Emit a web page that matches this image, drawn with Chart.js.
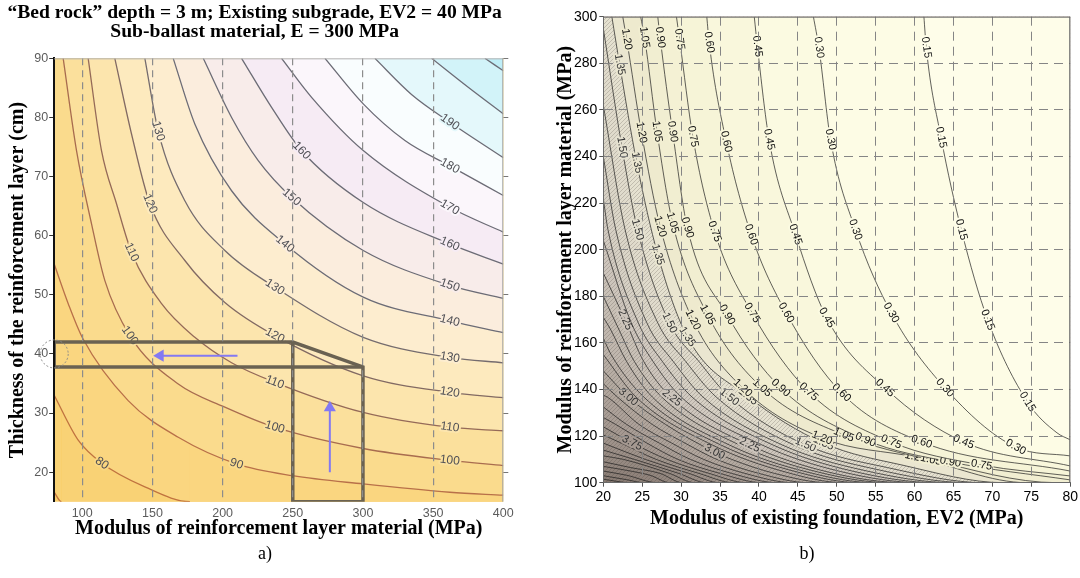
<!DOCTYPE html>
<html>
<head>
<meta charset="utf-8">
<script src="https://cdn.jsdelivr.net/npm/chart.js@4.4.0/dist/chart.umd.min.js"></script>
<style>
  html, body { margin: 0; padding: 0; background: #fff; }
  body { width: 1080px; height: 578px; position: relative; overflow: hidden; }
  canvas { position: absolute; top: 0; }
  #chartA { left: 0; }
  #chartB { left: 540px; }
  .cap { position: absolute; top: 543px; width: 60px; text-align: center;
         font-family: 'Liberation Serif', 'Times New Roman', serif; font-size: 18px; line-height: 20px; color: #000; }
</style>
</head>
<body>
<canvas id="chartA" width="540" height="578"></canvas>
<canvas id="chartB" width="540" height="578"></canvas>
<div class="cap" style="left:235px">a)</div>
<div class="cap" style="left:777px">b)</div>
<script>
// ---------- a) thickness vs modulus of reinforcement layer ----------
const xTicksA = [100, 150, 200, 250, 300, 350, 400];
const yTicksA = [20, 30, 40, 50, 60, 70, 80, 90];
const levelsA = [210, 200, 190, 180, 170, 160, 150, 140, 130, 120, 110, 100, 90, 80, 70];

// contour lines, [modulus MPa, thickness cm]
const a210 = [[386.9, 90], [400, 87.9]];
const a200 = [[348.9, 90], [375.0, 85.1], [400, 80.6]];
const a190 = [[308.5, 90], [334.6, 83.9], [361.9, 79.2], [400, 73.2]];
const a180 = [[272.9, 90], [300.2, 82.3], [329.9, 76.1], [361.9, 71.8], [400, 66.8]];
const a170 = [[242.0, 90], [263.4, 83.4], [300.2, 74.4], [361.9, 64.8], [400, 60.6]];
const a160 = [[213.5, 90], [234.9, 81.7], [256.2, 74.4], [300.2, 65.6], [361.9, 58.6], [400, 55.2]];
const a150 = [[186.2, 90], [206.4, 80.0], [225.4, 72.7], [249.1, 66.5], [300.2, 57.5], [361.9, 51.6], [400, 49.4]];
const a140 = [[164.8, 90], [180.2, 78.9], [206.4, 67.6], [244.4, 58.6], [300.2, 49.6], [361.9, 45.6], [400, 43.6]];
const a130 = [[144.6, 90], [154.1, 77.7], [173.1, 65.9], [201.6, 57.5], [237.2, 51.3], [300.2, 42.8], [361.9, 39.4], [400, 38.5]];
const a120 = [[123.2, 90], [135.1, 77.2], [148.2, 65.4], [173.1, 55.8], [201.6, 48.7], [237.2, 43.1], [300.2, 36.3], [361.9, 33.5], [400, 32.6]];
const a110 = [[104.2, 90], [113.7, 74.4], [124.4, 65.4], [135.1, 57.2], [156.5, 48.5], [180.2, 42.8], [206.4, 38.5], [237.2, 35.2], [300.2, 30.1], [361.9, 27.6], [400, 27.0]];
const a100 = [[86.4, 90], [95.9, 74.4], [106.6, 62.0], [116.1, 52.4], [133.9, 43.1], [168.4, 34.9], [201.6, 31.0], [237.2, 27.6], [300.2, 24.0], [361.9, 22.0], [400, 21.1]];
const a90 = [[80, 55.2], [90.0, 48.5], [100.4, 42.6], [132.7, 32.1], [168.4, 25.9], [209.9, 21.4], [249.8, 19.4], [300.2, 18.0], [361.9, 16.6], [400, 16.1]];
const a80 = [[80, 33.0], [97.1, 25.4], [114.0, 21.5], [144.6, 17.5], [176.7, 15]];
const a70 = [[80, 16.6], [85.2, 15]];
const contoursA = [a210, a200, a190, a180, a170, a160, a150, a140, a130, a120, a110, a100, a90, a80, a70];
// which vertex of each line carries its value label
const labelAtA = [[], [], [2], [3], [3], [2, 4], [3, 5], [3, 5], [1, 4, 6], [2, 5, 7], [3, 7, 9], [4, 7, 9], [5], [2], []];

// the marked design path, arrows and the circled start point
const boxUpper = [[80, 42], [250, 42], [300, 37.8], [300, 15], [250, 15], [250, 42]];
const boxLower = [[80, 37.8], [300, 37.8]];
const boxEdge = [[80, 37.8], [80, 42]];
const arrowLeft = [[210.6, 39.7], [155.5, 39.7]];
const arrowUp = [[276.4, 20], [276.4, 30.9]];
const markCircle = [80, 40];

// ---------- b) modulus of reinforcement vs EV2 ----------
const xTicksB = [20, 25, 30, 35, 40, 45, 50, 55, 60, 65, 70, 75, 80];
const yTicksB = [100, 120, 140, 160, 180, 200, 220, 240, 260, 280, 300];
const levelsB = [0.15, 0.30, 0.45, 0.60, 0.75, 0.90, 1.05, 1.20, 1.35, 1.50, 1.65, 1.80, 1.95, 2.10, 2.25, 2.40, 2.55,
                 2.70, 2.85, 3.00, 3.15, 3.30, 3.45, 3.60, 3.75, 3.90, 4.05, 4.20, 4.35, 4.50, 4.65, 4.80, 4.95, 5.10];

const b015 = [[61.2, 300], [61.5, 286.8], [63.4, 248.2], [66.0, 208.6], [69.4, 169.9], [74.5, 134.7], [78.3, 121.4], [80, 118.4]];
const b030 = [[47.0, 300], [47.7, 286.8], [49.2, 247.3], [52.4, 208.6], [57.0, 172.9], [63.9, 140.7], [73.0, 115.3], [80, 111.5]];
const b045 = [[39.4, 300], [39.8, 287.3], [41.3, 247.3], [44.7, 206.5], [48.7, 170.8], [56.2, 140.7], [66.3, 117.5], [80, 107.2]];
const b060 = [[33.3, 300], [33.6, 289.0], [35.8, 246.4], [39.0, 206.5], [43.5, 172.9], [50.6, 138.6], [60.9, 117.5], [80, 105.0]];
const b075 = [[29.4, 300], [29.8, 290.3], [31.5, 248.6], [34.3, 207.8], [39.1, 172.9], [46.4, 139.0], [57.0, 117.5], [68.6, 107.6], [80, 102.9]];
const b090 = [[27.0, 300], [27.3, 291.1], [28.9, 250.7], [30.8, 209.5], [35.9, 172.1], [42.8, 140.7], [53.7, 118.4], [64.6, 108.9], [80, 101.2]];
const b105 = [[24.8, 300], [25.3, 291.1], [26.9, 250.7], [28.9, 211.6], [33.4, 172.1], [40.4, 140.7], [50.9, 120.5], [62.1, 109.8], [78.3, 100]];
const b120 = [[22.5, 300], [23.0, 290.3], [24.9, 250.3], [27.3, 210.0], [31.5, 169.9], [37.9, 140.7], [48.1, 119.2], [60.1, 111.0], [74.5, 100]];
const b135 = [[21.1, 300], [22.1, 279.5], [24.3, 237.4], [27.0, 197.9], [30.8, 162.6], [38.6, 137.0], [48.3, 117.0], [58.5, 107.5], [71.5, 100]];
const b150 = [[20, 295], [22.4, 243.9], [24.4, 208.6], [28.5, 168.6], [32.3, 152], [36.2, 136.8], [46.0, 116.2], [56.5, 106.5], [69, 100]];
const b165 = [[20, 262], [22.8, 208.6], [27.0, 168.6], [30.6, 152], [34.5, 136.8], [44.5, 116.2], [55, 105.8], [67, 100]];
const b180 = [[20, 240], [21.6, 208.6], [25.6, 168.6], [29.0, 152], [32.8, 136.8], [43.0, 116.2], [53.5, 105.3], [65, 100]];
const b195 = [[20, 222], [20.6, 208.6], [24.5, 168.6], [27.6, 152], [31.4, 136.8], [41.8, 116.2], [52, 105], [63, 100]];
const b210 = [[20, 204], [23.6, 168.6], [26.4, 152], [30.0, 136.8], [40.4, 116.2], [50.5, 104.8], [61, 100]];
const b225 = [[20, 190], [22.8, 169.9], [25.2, 152], [28.8, 136.4], [38.8, 116.2], [49, 104.5], [59, 100]];
const b240 = [[20, 180], [21.9, 166.5], [24.0, 152], [27.5, 136.8], [37.5, 116.2], [47.7, 104.5], [57, 100]];
const b255 = [[20, 171], [20.9, 166], [23.0, 152], [26.3, 136.8], [36.2, 116.2], [46.3, 104.5], [55, 100]];
const b270 = [[20, 162], [21.0, 155], [25.2, 136.8], [35.1, 116.2], [45, 104.5], [53, 100]];
const b285 = [[20, 155], [24.2, 136.8], [34.0, 116.2], [43.5, 104.5], [51, 100]];
const b300 = [[20, 148], [23.2, 136.8], [28, 125], [34.3, 113.2], [36.5, 110], [42, 104], [49, 100]];
const b315 = [[20, 142.5], [21.8, 136.8], [26.3, 125], [30.5, 117], [34.6, 110], [40, 104], [46.5, 100]];
const b330 = [[20, 137.5], [20.5, 136.8], [24.6, 125], [28.8, 117], [32.9, 110], [38.2, 104], [44.5, 100]];
const b345 = [[20, 132.5], [23, 125], [27.2, 117], [31.2, 110], [36.5, 104], [42.5, 100]];
const b360 = [[20, 128], [21.6, 125], [25.6, 117], [29.6, 110], [35, 104], [40.5, 100]];
const b375 = [[20, 124], [23.7, 117.1], [28.2, 110], [33.6, 104], [38.5, 100]];
const b390 = [[20, 120.5], [22.3, 117], [26.8, 110], [32.3, 104], [36.8, 100]];
const b405 = [[20, 117], [25.4, 110], [31, 104], [35, 100]];
const b420 = [[20, 114], [24, 110], [29.7, 104], [33.3, 100]];
const b435 = [[20, 111.5], [22.6, 110], [28.5, 104], [31.8, 100]];
const b450 = [[20, 109], [23.5, 106.5], [27.3, 104], [30.2, 100]];
const b465 = [[20, 107], [23, 105.3], [26, 103.2], [28.6, 100]];
const b480 = [[20, 105], [23, 103.2], [27, 100]];
const b495 = [[20, 103], [23, 101.3], [25.3, 100]];
const b510 = [[20, 101.5], [23.5, 100]];
const contoursB = [b015, b030, b045, b060, b075, b090, b105, b120, b135, b150, b165, b180, b195, b210, b225, b240, b255,
                   b270, b285, b300, b315, b330, b345, b360, b375, b390, b405, b420, b435, b450, b465, b480, b495, b510];
const labelAtB = [[1, 2, 3, 4, 5], [1, 2, 3, 4, 5, 6], [1, 2, 3, 4, 5, 6], [1, 2, 3, 4, 5, 6], [1, 2, 3, 4, 5, 6, 7],
                  [1, 2, 3, 4, 5, 6, 7], [1, 2, 3, 4, 5, 6, 7], [1, 2, 3, 4, 5, 6, 7], [1, 2, 3, 4, 5, 6], [1, 2, 3, 5, 6],
                  [], [], [], [], [1, 3, 4], [], [], [], [], [1, 3], [], [], [], [], [1]];

// ---------- styles ----------
const fillA = {210: '#BFEEF7', 200: '#D2F3F9', 190: '#E4F8FB', 180: '#F9FDFE', 170: '#FBF6FB', 160: '#F6EBF4',
               150: '#F8ECEA', 140: '#FBEDDD', 130: '#FDEDCF', 120: '#FDEABE', 110: '#FCE5AD', 100: '#FBE09C',
               90: '#FADB8D', 80: '#FAD680', 70: '#F9D275'};
const baseA = '#F8CE6B';
function lineColorA(v) {
  if (v <= 80) return '#C0733F';
  if (v <= 90) return '#B87049';
  if (v <= 100) return '#A86C4F';
  if (v <= 110) return '#956A58';
  if (v <= 120) return '#826A63';
  if (v <= 130) return '#756C6E';
  return '#6C6C76';
}
const rampStopsB = [[0, '#FEFEEB'], [0.3, '#FCFBE3'], [0.7, '#F6F3D6'], [1.1, '#EFEBCE'], [1.4, '#E6E2D1'],
                    [2.0, '#D2CBC1'], [3.0, '#B5ABA2'], [4.0, '#9D9189'], [5.3, '#85786F']];
function hex(c) { return [1, 3, 5].map(i => parseInt(c.slice(i, i + 2), 16)); }
function rampB(v) {
  for (let i = 1; i < rampStopsB.length; i++) {
    const [v1, c1] = rampStopsB[i];
    const [v0, c0] = rampStopsB[i - 1];
    if (v <= v1) {
      const t = Math.max(0, (v - v0) / (v1 - v0));
      const a = hex(c0), b = hex(c1);
      return 'rgb(' + a.map((x, k) => Math.round(x + (b[k] - x) * t)).join(',') + ')';
    }
  }
  return rampStopsB[rampStopsB.length - 1][1];
}
// fine diagonal hatching used on the steep part of panel b
function hatch(color) {
  const c = document.createElement('canvas');
  c.width = 4; c.height = 4;
  const g = c.getContext('2d');
  g.fillStyle = color;
  g.fillRect(0, 0, 4, 4);
  g.strokeStyle = 'rgba(70,60,55,0.22)';
  g.lineWidth = 1;
  g.beginPath(); g.moveTo(0, 4); g.lineTo(4, 0); g.stroke();
  return g.createPattern(c, 'repeat');
}
function fillB(v) { return v > 1.35 ? hatch(rampB(v)) : rampB(v); }

function toXY(arr) { return arr.map(p => ({x: p[0], y: p[1]})); }

// contour line that also paints the band on its upper side
function contourSet(points, o) {
  const data = toXY(points);
  const last = points[points.length - 1];
  const closes = last[1] === o.yMin && last[0] < o.xMax;
  if (closes) data.push({x: o.xMax, y: o.yMin});
  const n = data.length;
  return {
    data,
    borderColor: o.line,
    borderWidth: o.width,
    backgroundColor: o.fill,
    fill: 'end',
    pointRadius: 0,
    cubicInterpolationMode: 'monotone',
    segment: { borderColor: c => (closes && c.p1DataIndex === n - 1) ? 'rgba(0,0,0,0)' : o.line },
    labelIdx: o.labels || [],
    labelText: o.text,
    labelFont: o.font,
    labelColor: o.labelColor,
    halo: o.halo || o.fill
  };
}

const contourLabels = {
  id: 'contourLabels',
  afterDatasetDraw(chart, args) {
    const ds = chart.data.datasets[args.index];
    if (!ds.labelIdx || !ds.labelIdx.length) return;
    const pts = args.meta.data;
    const ctx = chart.ctx;
    ds.labelIdx.forEach(i => {
      const p = pts[i], a = pts[Math.max(i - 1, 0)], b = pts[Math.min(i + 1, pts.length - 1)];
      let ang = Math.atan2(b.y - a.y, b.x - a.x);
      if (ang > Math.PI / 2) ang -= Math.PI;
      if (ang < -Math.PI / 2) ang += Math.PI;
      ctx.save();
      ctx.translate(p.x, p.y);
      ctx.rotate(ang);
      ctx.font = ds.labelFont;
      ctx.textAlign = 'center';
      ctx.textBaseline = 'middle';
      ctx.lineJoin = 'round';
      ctx.lineWidth = 4;
      ctx.strokeStyle = ds.halo;
      ctx.strokeText(ds.labelText, 0, 0);
      ctx.fillStyle = ds.labelColor;
      ctx.fillText(ds.labelText, 0, 0);
      ctx.restore();
    });
  }
};

const bgFill = {
  id: 'bgFill',
  beforeDatasetsDraw(chart, args, o) {
    const a = chart.chartArea, ctx = chart.ctx;
    ctx.save();
    ctx.fillStyle = o.color;
    ctx.fillRect(a.left, a.top, a.right - a.left, a.bottom - a.top);
    ctx.restore();
  }
};

const frame = {
  id: 'frame',
  afterDraw(chart, args, o) {
    const {left, right, top, bottom} = chart.chartArea, ctx = chart.ctx;
    ctx.save();
    ctx.lineWidth = 1;
    if (o.top) { ctx.strokeStyle = o.top; ctx.beginPath(); ctx.moveTo(left, top + 0.5); ctx.lineTo(right, top + 0.5); ctx.stroke(); }
    if (o.right) { ctx.strokeStyle = o.right; ctx.beginPath(); ctx.moveTo(right - 0.5, top); ctx.lineTo(right - 0.5, bottom); ctx.stroke(); }
    if (o.circle) {
      const cx = chart.scales.x.getPixelForValue(o.circle[0]);
      const cy = chart.scales.y.getPixelForValue(o.circle[1]);
      ctx.strokeStyle = '#8a8a8a';
      ctx.setLineDash([2, 2]);
      ctx.beginPath(); ctx.arc(cx, cy, 14, 0, Math.PI * 2); ctx.stroke();
    }
    ctx.restore();
  }
};

Chart.defaults.font.family = "'Liberation Sans', Arial, sans-serif";
const serifBold = {family: "'Liberation Serif', 'Times New Roman', serif", size: 20, weight: 'bold'};

// ---------- chart a ----------
const dsA = [
  { data: toXY(arrowLeft), borderColor: '#8379F2', borderWidth: 2, fill: false, pointRadius: [0, 7], pointStyle: 'triangle',
    rotation: -90, pointBackgroundColor: '#8379F2', pointBorderColor: '#8379F2', pointBorderWidth: 0 },
  { data: toXY(arrowUp), borderColor: '#8379F2', borderWidth: 2, fill: false, pointRadius: [0, 7], pointStyle: 'triangle',
    rotation: 0, pointBackgroundColor: '#8379F2', pointBorderColor: '#8379F2', pointBorderWidth: 0 },
  { data: toXY(boxUpper), borderColor: '#6A6252', borderWidth: 3.5, fill: false, pointRadius: 0, borderJoinStyle: 'miter' },
  { data: toXY(boxLower), borderColor: '#6A6252', borderWidth: 3.5, fill: false, pointRadius: 0 },
  { data: toXY(boxEdge), borderColor: '#6A6252', borderWidth: 3.5, fill: false, pointRadius: 0 }
];
contoursA.forEach((pts, k) => {
  const v = levelsA[k];
  dsA.push(contourSet(pts, {
    xMax: 400, yMin: 15, line: lineColorA(v), width: 1.3, fill: fillA[v],
    labels: labelAtA[k], text: String(v), font: '12px "Liberation Sans", Arial, sans-serif', labelColor: '#4f4f55'
  }));
});

new Chart(document.getElementById('chartA'), {
  type: 'line',
  data: { datasets: dsA },
  plugins: [bgFill, contourLabels, frame],
  options: {
    responsive: false, animation: false, devicePixelRatio: 1, events: [],
    layout: { padding: { left: 0, right: 30.7, top: 0, bottom: 36.3 } },
    plugins: {
      legend: { display: false },
      tooltip: { enabled: false },
      bgFill: { color: baseA },
      frame: { top: '#b4b4b4', right: '#a0a0a0', circle: markCircle },
      title: {
        display: true,
        text: ['\u201CBed rock\u201D depth = 3 m; Existing subgrade, EV2 = 40 MPa', 'Sub-ballast material, E = 300 MPa'],
        font: { family: "'Liberation Serif', 'Times New Roman', serif", size: 19.6, weight: 'bold', lineHeight: 0.96 },
        color: '#000',
        padding: { top: 3.5, bottom: 17.2 }
      }
    },
    scales: {
      x: {
        type: 'linear', min: 80, max: 400,
        afterBuildTicks: s => { s.ticks = xTicksA.map(v => ({value: v})); },
        afterFit: s => { s.height = 40; },
        grid: { z: 1, drawTicks: false, lineWidth: 1.2,
                color: c => (c.tick && c.tick.value >= 400) ? 'rgba(0,0,0,0)' : '#8c8c8c' },
        border: { display: false, dash: [7, 5] },
        ticks: { color: '#5c5c5c', font: { size: 12.5 }, padding: 4, autoSkip: false, maxRotation: 0 },
        title: { display: true, text: 'Modulus of reinforcement layer material (MPa)', font: serifBold, color: '#000',
                 padding: { top: 0, bottom: 0.7 } }
      },
      y: {
        type: 'linear', min: 15, max: 90, position: 'left',
        afterBuildTicks: s => { s.ticks = yTicksA.map(v => ({value: v})); },
        afterFit: s => { s.width = 54.2; },
        grid: { drawOnChartArea: false, drawTicks: true, tickLength: 5, color: '#333' },
        border: { display: true, color: '#111', width: 2, z: 1 },
        ticks: { color: '#5c5c5c', font: { size: 12.5 }, padding: 1 },
        title: { display: true, text: 'Thickness of the reinforcement layer (cm)', font: serifBold, color: '#000',
                 padding: { top: 6, bottom: 0 } }
      },
      y2: {
        type: 'linear', min: 15, max: 90, position: 'right',
        afterBuildTicks: s => { s.ticks = yTicksA.map(v => ({value: v})); },
        afterFit: s => { s.width = 6; },
        grid: { drawOnChartArea: false, drawTicks: true, tickLength: 5, color: '#777' },
        border: { display: false },
        ticks: { display: false }
      }
    }
  }
});

// ---------- chart b ----------
const dsB = [];
contoursB.forEach((pts, k) => {
  const v = levelsB[k];
  dsB.push(contourSet(pts, {
    xMax: 80, yMin: 100, line: '#1e1e1e', width: 0.7, fill: fillB(v - 0.075), halo: rampB(v - 0.075),
    labels: labelAtB[k] || [], text: v.toFixed(2), font: '11px "Liberation Sans", Arial, sans-serif',
    labelColor: v > 1.3 ? '#333' : '#111'
  }));
});

const edgeB = (lo, hi) => c => (c.tick && (c.tick.value === lo || c.tick.value === hi)) ? 'rgba(0,0,0,0)' : '#858585';

new Chart(document.getElementById('chartB'), {
  type: 'line',
  data: { datasets: dsB },
  plugins: [bgFill, contourLabels, frame],
  options: {
    responsive: false, animation: false, devicePixelRatio: 1, events: [],
    layout: { padding: { left: 0, right: 7, top: 16.7, bottom: 45.3 } },
    plugins: {
      legend: { display: false },
      tooltip: { enabled: false },
      bgFill: { color: hatch(rampB(5.3)) },
      frame: { top: '#6a6a6a', right: '#6a6a6a' }
    },
    scales: {
      x: {
        type: 'linear', min: 20, max: 80,
        afterBuildTicks: s => { s.ticks = xTicksB.map(v => ({value: v})); },
        afterFit: s => { s.height = 50; },
        grid: { z: 1, drawTicks: true, tickLength: 4, tickColor: '#555', color: edgeB(20, 80) },
        border: { display: true, color: '#6a6a6a', width: 1, z: 1, dash: [9, 6] },
        ticks: { color: '#000', font: { size: 14 }, padding: 2, autoSkip: false, maxRotation: 0 },
        title: { display: true, text: 'Modulus of existing foundation, EV2 (MPa)', font: serifBold, color: '#000',
                 padding: { top: 0, bottom: 1.7 } }
      },
      y: {
        type: 'linear', min: 100, max: 300,
        afterBuildTicks: s => { s.ticks = yTicksB.map(v => ({value: v})); },
        afterFit: s => { s.width = 63.3; },
        grid: { z: 1, drawTicks: true, tickLength: 4, tickColor: '#555', color: edgeB(100, 300) },
        border: { display: true, color: '#6a6a6a', width: 1, z: 1, dash: [9, 6] },
        ticks: { color: '#000', font: { size: 14 }, padding: 2, autoSkip: false },
        title: { display: true, text: 'Modulus of reinforcement layer material (MPa)', font: serifBold, color: '#000',
                 padding: { top: 14, bottom: 0 } }
      }
    }
  }
});
</script>
</body>
</html>
